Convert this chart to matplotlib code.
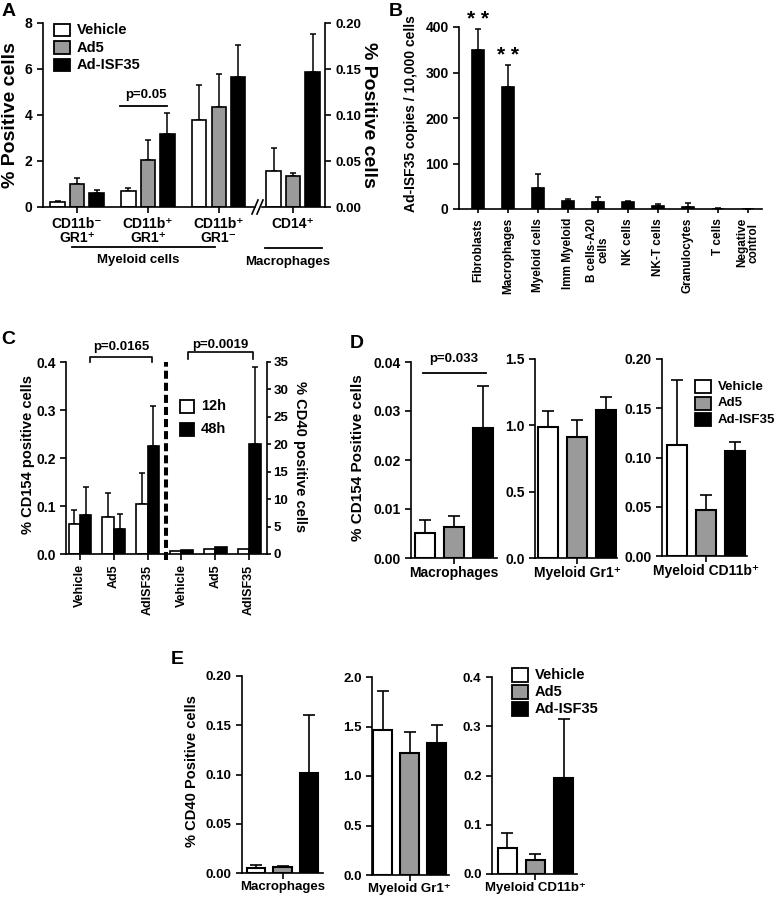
import numpy as np
import matplotlib
matplotlib.use('Agg')
import matplotlib.pyplot as plt
from matplotlib.patches import Rectangle
from matplotlib.lines import Line2D
from matplotlib.ticker import FormatStrFormatter

LARGURA, ALTURA = 777, 901

plt.rcParams['font.family'] = ['Liberation Sans', 'DejaVu Sans']
plt.rcParams['font.weight'] = 'bold'
plt.rcParams['axes.labelweight'] = 'bold'
plt.rcParams['axes.linewidth'] = 1.2

CINZA = '#9a9a9a'
tratamentos = ['Vehicle', 'Ad5', 'Ad-ISF35']
cores = ['white', CINZA, 'black']

# ---- Painel A (% positive cells)
a_grupos = ['CD11b⁻\nGR1⁺', 'CD11b⁺\nGR1⁺', 'CD11b⁺\nGR1⁻']
a_vehicle = [0.23, 0.70, 3.8]
a_vehicle_err = [0.03, 0.14, 1.5]
a_ad5 = [0.99, 2.04, 4.35]
a_ad5_err = [0.26, 0.87, 1.45]
a_isf35 = [0.62, 3.17, 5.65]
a_isf35_err = [0.12, 0.93, 1.4]
a_cd14_grupo = ['CD14⁺']
a_cd14 = [0.039, 0.034, 0.147]
a_cd14_err = [0.025, 0.003, 0.041]

# ---- Painel B (copias / 10.000 celulas)
b_celulas = ['Fibroblasts', 'Macrophages', 'Myeloid cells', 'Imm Myeloid',
             'B cells-A20\ncells', 'NK cells', 'NK-T cells', 'Granulocytes',
             'T cells', 'Negative\ncontrol']
b_copias = [349, 268, 46, 18, 16, 16, 7, 5, 1, 0.5]
b_copias_err = [47, 48, 31, 4, 11, 1, 3, 8, 0.5, 0.3]
b_asteriscos = ['* *', '* *', '', '', '', '', '', '', '', '']

# ---- Painel C (CD154 / CD40, 12h e 48h)
c_grupos = ['Vehicle', 'Ad5', 'AdISF35']
c_cd154_12h = [0.063, 0.077, 0.105]
c_cd154_12h_err = [0.028, 0.051, 0.064]
c_cd154_48h = [0.082, 0.052, 0.224]
c_cd154_48h_err = [0.057, 0.032, 0.085]
c_cd40_12h = [0.5, 0.9, 0.9]
c_cd40_12h_err = [0, 0, 0]
c_cd40_48h = [0.8, 1.3, 20.1]
c_cd40_48h_err = [0, 0, 14.0]

# ---- Painel D (% CD154 positive cells)
d_tipos = ['Macrophages', 'Myeloid Gr1⁺', 'Myeloid CD11b⁺']
d_vehicle = [0.0052, 0.985, 0.113]
d_vehicle_err = [0.0026, 0.125, 0.066]
d_ad5 = [0.0063, 0.91, 0.047]
d_ad5_err = [0.0023, 0.13, 0.015]
d_isf35 = [0.0265, 1.115, 0.107]
d_isf35_err = [0.0086, 0.10, 0.0085]

# ---- Painel E (% CD40 positive cells)
e_tipos = ['Macrophages', 'Myeloid Gr1⁺', 'Myeloid CD11b⁺']
e_vehicle = [0.005, 1.465, 0.052]
e_vehicle_err = [0.003, 0.395, 0.031]
e_ad5 = [0.0065, 1.23, 0.028]
e_ad5_err = [0.001, 0.215, 0.012]
e_isf35 = [0.102, 1.336, 0.1955]
e_isf35_err = [0.058, 0.18, 0.12]


def fx(x):
    return x / LARGURA


def fy(y):
    return 1 - y / ALTURA


# Cria um eixo a partir de uma caixa em pixels (origem no canto superior esquerdo)
def eixo_px(fig, x0, y0, x1, y1):
    return fig.add_axes([fx(x0), fy(y1), (x1 - x0) / LARGURA, (y1 - y0) / ALTURA])


def barras(ax, x, valores, erros, cor, largura, lw=1.2, capsize=3, elw=1.1):
    x = np.asarray(x, dtype=float)
    valores = np.asarray(valores, dtype=float)
    erros = np.asarray(erros, dtype=float)
    ax.bar(x, valores, largura, color=cor, edgecolor='black', linewidth=lw, zorder=2)
    m = erros > 0
    if m.any():
        ax.errorbar(x[m], valores[m], yerr=[np.zeros(m.sum()), erros[m]], fmt='none',
                    ecolor='black', elinewidth=elw, capsize=capsize, capthick=elw, zorder=1)


def limpar(ax, lados=('top', 'right')):
    for s in lados:
        ax.spines[s].set_visible(False)
    ax.tick_params(direction='out', length=4, width=1.2)


def legenda_px(fig, x, y, rotulos, cores_leg, passo, bw, bh, tamanho=10):
    for i, (r, c) in enumerate(zip(rotulos, cores_leg)):
        yy = y + i * passo
        fig.add_artist(Rectangle((fx(x), fy(yy + bh)), bw / LARGURA, bh / ALTURA,
                                 facecolor=c, edgecolor='black', lw=1.3,
                                 transform=fig.transFigure))
        fig.text(fx(x + bw + 7), fy(yy + bh / 2), r, fontsize=tamanho, va='center', ha='left')


def linha_px(fig, xs, ys, lw=1.3):
    fig.add_artist(Line2D([fx(v) for v in xs], [fy(v) for v in ys], color='black',
                          lw=lw, transform=fig.transFigure))


def letra(fig, x, y, s):
    fig.text(fx(x), fy(y), s, fontsize=14, ha='center', va='center')


fig = plt.figure(figsize=(LARGURA / 100, ALTURA / 100), dpi=100)

# ================= A =================
ax_a = eixo_px(fig, 43, 23, 255, 207)
pos = np.arange(len(a_grupos))
desl, larg = 0.275, 0.2
for k, (v, e) in enumerate([(a_vehicle, a_vehicle_err), (a_ad5, a_ad5_err), (a_isf35, a_isf35_err)]):
    barras(ax_a, pos + (k - 1) * desl, v, e, cores[k], larg, capsize=2.5)
ax_a.set_xlim(-0.48, 2.51)
ax_a.set_ylim(0, 8)
ax_a.set_yticks([0, 2, 4, 6, 8])
ax_a.set_xticks(pos)
ax_a.set_xticklabels(a_grupos, fontsize=10, linespacing=1.0)
limpar(ax_a)
ax_a.tick_params(axis='y', labelsize=10)

ax_a2 = eixo_px(fig, 262, 23, 325, 207)
for k in range(3):
    barras(ax_a2, [(k - 1) * desl], [a_cd14[k]], [a_cd14_err[k]], cores[k], larg, capsize=2.5)
ax_a2.set_xlim(-0.437, 0.45)
ax_a2.set_ylim(0, 0.2)
ax_a2.set_yticks(np.arange(0, 0.201, 0.05))
ax_a2.yaxis.set_major_formatter(FormatStrFormatter('%.2f'))
ax_a2.yaxis.tick_right()
ax_a2.set_xticks([0])
ax_a2.set_xticklabels(a_cd14_grupo, fontsize=10)
limpar(ax_a2, ('top', 'left'))
ax_a2.tick_params(axis='y', labelsize=9.5)

# quebra do eixo
linha_px(fig, [252, 258], [214, 200], lw=1.2)
linha_px(fig, [257, 263], [214, 200], lw=1.2)

fig.text(fx(11), fy(115), '% Positive cells', fontsize=14, rotation=90, ha='center', va='center')
fig.text(fx(369), fy(115), '% Positive cells', fontsize=14, rotation=270, ha='center', va='center')
linha_px(fig, [120, 167], [106, 106])
fig.text(fx(146), fy(95), 'p=0.05', fontsize=9.5, ha='center', va='center')
linha_px(fig, [72, 215], [247, 247])
fig.text(fx(138), fy(260), 'Myeloid cells', fontsize=9.5, ha='center', va='center')
linha_px(fig, [265, 322], [248, 248])
fig.text(fx(288), fy(262), 'Macrophages', fontsize=9.5, ha='center', va='center')
legenda_px(fig, 54, 24, tratamentos, cores, 17.5, 16, 12, tamanho=10.5)
letra(fig, 9, 11, 'A')

# ================= B =================
ax_b = eixo_px(fig, 459, 27, 762, 209)
xb = np.arange(len(b_celulas))
barras(ax_b, xb, b_copias, b_copias_err, 'black', 0.42, capsize=2)
for i, s in enumerate(b_asteriscos):
    if s:
        ax_b.text(xb[i], b_copias[i] + b_copias_err[i], s, fontsize=15, ha='center',
                  va='bottom', clip_on=False)
ax_b.set_xlim(-0.63, 9.47)
ax_b.set_ylim(0, 400)
ax_b.set_yticks(np.arange(0, 401, 100))
ax_b.set_xticks(xb)
ax_b.set_xticklabels(b_celulas, rotation=90, fontsize=8.5, ha='center', va='top',
                     multialignment='center', linespacing=1.0)
limpar(ax_b)
ax_b.tick_params(axis='x', length=3)
ax_b.tick_params(axis='y', labelsize=10)
fig.text(fx(411), fy(114), 'Ad-ISF35 copies / 10,000 cells', fontsize=10, rotation=90,
         ha='center', va='center')
letra(fig, 396, 11, 'B')

# ================= C =================
ax_c = eixo_px(fig, 66, 362, 267, 554)
ax_c2 = ax_c.twinx()
xc = np.arange(2 * len(c_grupos))
esq, dir_ = xc[:3], xc[3:]
barras(ax_c, esq - 0.17, c_cd154_12h, c_cd154_12h_err, 'white', 0.34, capsize=2.5)
barras(ax_c, esq + 0.17, c_cd154_48h, c_cd154_48h_err, 'black', 0.34, capsize=2.5)
barras(ax_c2, dir_ - 0.17, c_cd40_12h, c_cd40_12h_err, 'white', 0.34, capsize=2.5)
barras(ax_c2, dir_ + 0.17, c_cd40_48h, c_cd40_48h_err, 'black', 0.34, capsize=2.5)
for ax in (ax_c, ax_c2):
    ax.set_xlim(-0.414, 5.53)
ax_c.set_ylim(0, 0.4)
ax_c.set_yticks(np.arange(0, 0.401, 0.1))
ax_c.yaxis.set_major_formatter(FormatStrFormatter('%.1f'))
ax_c2.set_ylim(0, 35)
ax_c2.set_yticks(np.arange(0, 36, 5))
ax_c.set_xticks(xc)
ax_c.set_xticklabels(c_grupos * 2, rotation=90, fontsize=9, ha='center', va='top')
limpar(ax_c)
limpar(ax_c2, ('top', 'left', 'bottom'))
ax_c.tick_params(axis='y', labelsize=10)
ax_c2.tick_params(axis='y', labelsize=9.5, length=3, pad=1.5)
ax_c.plot([2.53, 2.53], [-0.012, 0.4], color='black', lw=2.9, ls=(0, (2.0, 1.0)),
          clip_on=False, zorder=3)
ax_c.plot([0.3, 0.3, 2.13, 2.13], [0.400, 0.410, 0.410, 0.400], color='black', lw=1.2, clip_on=False)
ax_c.text(1.21, 0.431, 'p=0.0165', fontsize=9.5, ha='center', va='center')
ax_c.plot([3.2, 3.2, 5.12, 5.12], [0.406, 0.421, 0.421, 0.406], color='black', lw=1.2, clip_on=False)
ax_c.text(4.16, 0.436, 'p=0.0019', fontsize=9.5, ha='center', va='center')
legenda_px(fig, 180, 400, ['12h', '48h'], ['white', 'black'], 23, 14, 13, tamanho=10.5)
fig.text(fx(28), fy(455), '% CD154 positive cells', fontsize=10.5, rotation=90, ha='center', va='center')
fig.text(fx(300), fy(457), '% CD40 positive cells', fontsize=10.5, rotation=270, ha='center', va='center')
letra(fig, 8, 340, 'C')


# ================= D e E =================
def painel_tres(caixas, tipos, series, limites, formatos, capsize, lw_barra, tam):
    eixos = []
    for i, (caixa, (xmin, xmax, ymax, passo), fmt) in enumerate(zip(caixas, limites, formatos)):
        ax = eixo_px(fig, *caixa)
        x = np.arange(3)
        for k, (v, e) in enumerate(series):
            barras(ax, [x[k]], [v[i]], [e[i]], cores[k], 0.7, lw=lw_barra, capsize=capsize, elw=1.2)
        ax.set_xlim(xmin, xmax)
        ax.set_ylim(0, ymax)
        ax.set_yticks(np.arange(0, ymax + passo / 2, passo))
        ax.yaxis.set_major_formatter(FormatStrFormatter(fmt))
        ax.set_xticks([1])
        ax.set_xticklabels([tipos[i]], fontsize=tam)
        limpar(ax)
        ax.tick_params(axis='x', pad=2)
        ax.tick_params(axis='y', labelsize=tam)
        eixos.append(ax)
    return eixos


series_d = [(d_vehicle, d_vehicle_err), (d_ad5, d_ad5_err), (d_isf35, d_isf35_err)]
eixos_d = painel_tres([(411, 362, 497, 558), (535, 359, 617, 558), (662, 359, 747, 556)],
                      d_tipos, series_d,
                      [(-0.48, 2.48, 0.04, 0.01), (-0.45, 2.38, 1.5, 0.5), (-0.52, 2.41, 0.2, 0.05)],
                      ['%.2f', '%.1f', '%.2f'], 4.5, 1.5, 10)
eixos_d[0].plot([-0.07, 2.1], [0.0378, 0.0378], color='black', lw=1.3, clip_on=False)
eixos_d[0].text(1.0, 0.0394, 'p=0.033', fontsize=9.5, ha='center', va='bottom')
legenda_px(fig, 695, 380, tratamentos, cores, 16.7, 16, 13, tamanho=9.5)
fig.text(fx(358), fy(458), '% CD154 Positive cells', fontsize=11, rotation=90, ha='center', va='center')
letra(fig, 357, 343, 'D')

series_e = [(e_vehicle, e_vehicle_err), (e_ad5, e_ad5_err), (e_isf35, e_isf35_err)]
eixos_e = painel_tres([(242, 676, 323, 873), (372, 677, 449, 875), (492, 677, 577, 874)],
                      e_tipos, series_e,
                      [(-0.53, 2.53, 0.2, 0.05), (-0.39, 2.46, 2.0, 0.5), (-0.55, 2.48, 0.4, 0.1)],
                      ['%.2f', '%.1f', '%.1f'], 4.5, 1.5, 9.5)
legenda_px(fig, 512, 668, tratamentos, cores, 17, 16, 14, tamanho=10.5)
fig.text(fx(192), fy(771), '% CD40 Positive cells', fontsize=10.5, rotation=90, ha='center', va='center')
letra(fig, 177, 660, 'E')

fig.savefig('out.png', dpi=100)
